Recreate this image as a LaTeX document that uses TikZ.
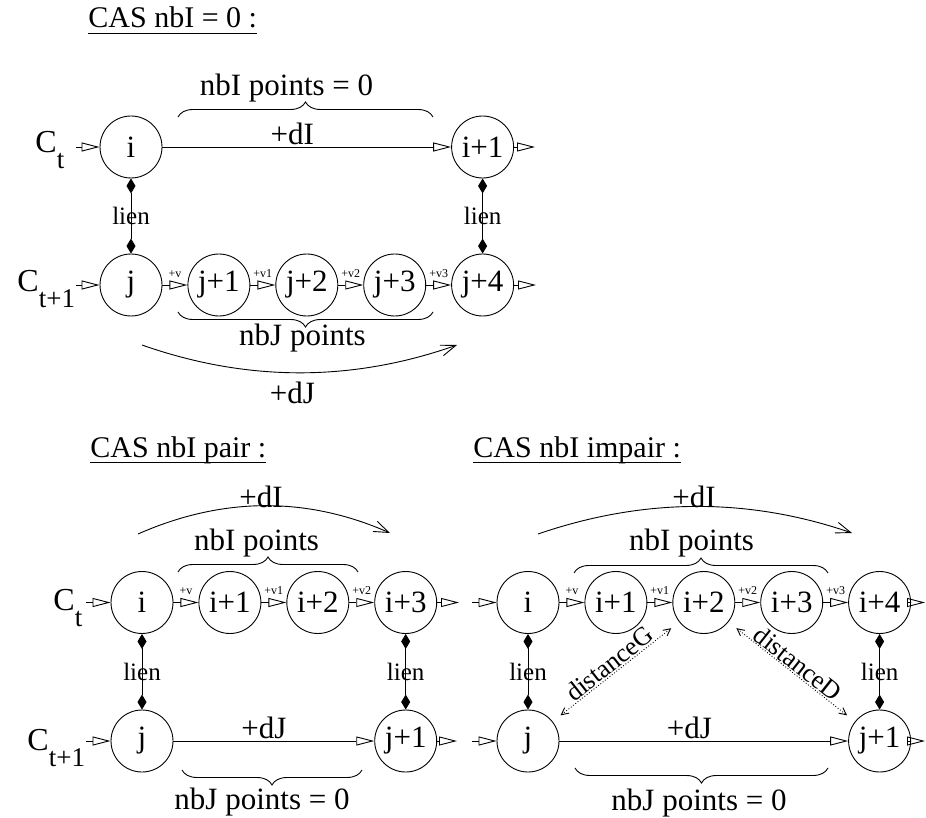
\documentclass[tikz,border=0pt]{standalone}
\usepackage{fontspec}
\setmainfont{Liberation Serif}
\usetikzlibrary{arrows.meta,positioning,decorations.pathreplacing}
\newcommand{\souligne}[1]{\setbox0\hbox{#1}\rlap{\rule[-6pt]{\wd0}{1pt}}\box0}
\newcommand{\Cind}[1]{C\raisebox{-16pt}{\fontsize{27}{30}\selectfont #1}}

\begin{document}
\begin{tikzpicture}[
  x=1pt, y=-1pt,
  line width=0.9pt,
  node distance=25pt,
  every node/.style={font=\fontsize{31}{36}\selectfont},
  etat/.style={circle, draw, minimum size=62pt, inner sep=0pt},
  titre/.style={anchor=base west, inner sep=0pt, font=\fontsize{30}{36}\selectfont},
  cnom/.style={anchor=base west, inner sep=0pt, font=\fontsize{32}{36}\selectfont},
  suiv/.style={-{Triangle[open,length=18pt,width=9pt]}},
  lien/.style={{Diamond[length=15pt,width=9pt]}-{Diamond[length=15pt,width=9pt]}},
  saut/.style={-{Straight Barb[length=15pt,width=11pt]}},
  accolade/.style={decorate, decoration={brace, amplitude=15pt}},
  dist/.style={dotted, {Straight Barb[length=7pt,width=7pt]}-{Straight Barb[length=7pt,width=7pt]},
    shorten <=10pt, shorten >=10pt},
  pas/.style={midway, above=6pt, inner sep=1pt, font=\fontsize{12}{14}\selectfont},
  delta/.style={pos=.45, above, inner sep=2pt},
  petit/.style={font=\fontsize{25}{30}\selectfont},
  dnom/.style={midway, sloped, above, inner sep=1pt, font=\fontsize{26}{30}\selectfont}
]
  \useasboundingbox (0,0) rectangle (926,818);

  % CAS nbI = 0
  \node[titre] (atitre) at (88,28) {\souligne{CAS nbI = 0 :}};
  \node[etat] (ai) at (131,147) {i};
  \node[etat] (aj) at (131,285) {j};
  \node[etat,right=of aj] (aj1) {j+1};
  \node[etat,right=of aj1] (aj2) {j+2};
  \node[etat,right=of aj2] (aj3) {j+3};
  \node[etat,right=of aj3] (aj4) {j+4};
  \node[etat] (ai1) at (aj4 |- ai) {i+1};
  \node[cnom] (act) at (35,153) {\Cind{t}};
  \node[cnom] (actt) at (17,291) {\Cind{t+1}};
  \coordinate (aei) at (76,147);
  \coordinate (aej) at (76,285);
  \coordinate (asi) at (535,147);
  \coordinate (asj) at (536,285);
  \draw[suiv] (aei) -- (ai);
  \draw[suiv] (aej) -- (aj);
  \draw[suiv] (ai) -- node[delta] (adi) {+dI} (ai1);
  \draw[suiv] (ai1) -- (asi);
  \draw[suiv] (aj) -- node[pas] (av) {+v} (aj1);
  \draw[suiv] (aj1) -- node[pas] (av1) {+v1} (aj2);
  \draw[suiv] (aj2) -- node[pas] (av2) {+v2} (aj3);
  \draw[suiv] (aj3) -- node[pas] (av3) {+v3} (aj4);
  \draw[suiv] (aj4) -- (asj);
  \draw[lien] (ai) -- node[petit] (alg) {lien} (aj);
  \draw[lien] (ai1) -- node[petit] (ald) {lien} (aj4);
  \draw[accolade] (178,117) -- (433,117);
  \node (anbi) at (286.5,88) {nbI points = 0};
  \draw[accolade] (433,312) -- (178,312);
  \node (anbj) at (302.5,338) {nbJ points};
  \coordinate (adj0) at (142,345);
  \coordinate (adj1) at (457,345);
  \draw[saut] (adj0) .. controls +(105,37) and +(-105,37) .. (adj1);
  \node (adj) at (292.5,393) {+dJ};

  % CAS nbI pair
  \node[titre] (ptitre) at (90,457) {\souligne{CAS nbI pair :}};
  \node[etat] (pi) at (142,602.5) {i};
  \node[etat,right=of pi] (pi1) {i+1};
  \node[etat,right=of pi1] (pi2) {i+2};
  \node[etat,right=of pi2] (pi3) {i+3};
  \node[etat] (pj) at (142,741) {j};
  \node[etat] (pj1) at (pi3 |- pj) {j+1};
  \node[cnom] (pct) at (53,610) {\Cind{t}};
  \node[cnom] (pctt) at (27,750) {\Cind{t+1}};
  \coordinate (pei) at (86,602.5);
  \coordinate (pej) at (86,741);
  \coordinate (psi) at (459,602.5);
  \coordinate (psj) at (457,741);
  \draw[suiv] (pei) -- (pi);
  \draw[suiv] (pej) -- (pj);
  \draw[suiv] (pi) -- node[pas] (pv) {+v} (pi1);
  \draw[suiv] (pi1) -- node[pas] (pv1) {+v1} (pi2);
  \draw[suiv] (pi2) -- node[pas] (pv2) {+v2} (pi3);
  \draw[suiv] (pi3) -- (psi);
  \draw[suiv] (pj) -- node[delta] (pdj) {+dJ} (pj1);
  \draw[suiv] (pj1) -- (psj);
  \draw[lien] (pi) -- node[petit] (plg) {lien} (pj);
  \draw[lien] (pi3) -- node[petit] (pld) {lien} (pj1);
  \draw[accolade] (178,572) -- (358,572);
  \node (pnbi) at (256.5,543) {nbI points};
  \draw[accolade] (362,770) -- (182,770);
  \node (pnbj) at (262,802) {nbJ points = 0};
  \coordinate (pdi0) at (138,534);
  \coordinate (pdi1) at (390,533);
  \draw[saut] (pdi0) .. controls +(84,-37) and +(-84,-37) .. (pdi1);
  \node (pdi) at (261,497) {+dI};

  % CAS nbI impair
  \node[titre] (mtitre) at (473,457) {\souligne{CAS nbI impair :}};
  \node[etat] (mi) at (528,602.5) {i};
  \node[etat,right=of mi] (mi1) {i+1};
  \node[etat,right=of mi1] (mi2) {i+2};
  \node[etat,right=of mi2] (mi3) {i+3};
  \node[etat,right=of mi3] (mi4) {i+4};
  \node[etat] (mj) at (528,741) {j};
  \node[etat] (mj1) at (mi4 |- mj) {j+1};
  \coordinate (mei) at (472,602.5);
  \coordinate (mej) at (472,741);
  \coordinate (msi) at (925,602.5);
  \coordinate (msj) at (925,741);
  \draw[suiv] (mei) -- (mi);
  \draw[suiv] (mej) -- (mj);
  \draw[suiv] (mi) -- node[pas] (mv) {+v} (mi1);
  \draw[suiv] (mi1) -- node[pas] (mv1) {+v1} (mi2);
  \draw[suiv] (mi2) -- node[pas] (mv2) {+v2} (mi3);
  \draw[suiv] (mi3) -- node[pas] (mv3) {+v3} (mi4);
  \draw[suiv] (mi4) -- (msi);
  \draw[suiv] (mj) -- node[delta] (mdj) {+dJ} (mj1);
  \draw[suiv] (mj1) -- (msj);
  \draw[lien] (mi) -- node[petit] (mlg) {lien} (mj);
  \draw[lien] (mi4) -- node[petit] (mld) {lien} (mj1);
  \draw[dist] (mj) -- node[dnom] (mdg) {distanceG} (mi2);
  \draw[dist] (mi2) -- node[dnom] (mdd) {distanceD} (mj1);
  \draw[accolade] (574,573) -- (828,573);
  \node (mnbi) at (691.5,543) {nbI points};
  \draw[accolade] (828,768) -- (575,768);
  \node (mnbj) at (699,803) {nbJ points = 0};
  \coordinate (mdi0) at (538,534);
  \coordinate (mdi1) at (852,533);
  \draw[saut] (mdi0) .. controls +(105,-36) and +(-105,-36) .. (mdi1);
  \node (mdi) at (694,497) {+dI};
\end{tikzpicture}
\end{document}
